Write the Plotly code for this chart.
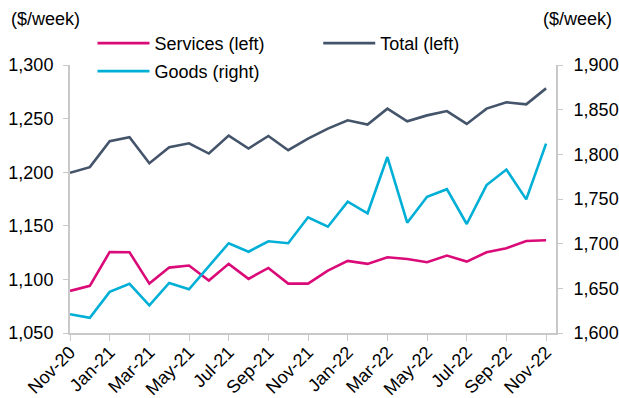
import plotly.graph_objects as go

months = ["Nov-20", "Dec-20", "Jan-21", "Feb-21", "Mar-21", "Apr-21", "May-21", "Jun-21",
          "Jul-21", "Aug-21", "Sep-21", "Oct-21", "Nov-21", "Dec-21", "Jan-22", "Feb-22",
          "Mar-22", "Apr-22", "May-22", "Jun-22", "Jul-22", "Aug-22", "Sep-22", "Oct-22", "Nov-22"]

services = [1089.3, 1094.0, 1125.6, 1125.3, 1096.1, 1111.0, 1112.9, 1098.9, 1114.5, 1100.5,
            1110.7, 1096.1, 1096.1, 1108.2, 1117.3, 1114.5, 1120.7, 1119.1, 1116.0, 1122.2,
            1116.6, 1125.3, 1129.0, 1135.9, 1136.5]

total = [1199.4, 1204.7, 1229.0, 1232.6, 1208.4, 1223.3, 1227.0, 1217.4, 1234.2, 1222.1,
         1233.8, 1220.5, 1231.3, 1240.7, 1248.4, 1244.4, 1259.3, 1247.5, 1253.0, 1257.0,
         1245.0, 1259.3, 1265.2, 1263.3, 1278.2]

goods = [1621, 1617, 1646, 1655, 1631, 1656, 1649, 1674.6, 1700.5, 1691, 1702.7, 1700.5,
         1729.5, 1719, 1747, 1734, 1797, 1723.5, 1752.5, 1761, 1722, 1765.6, 1783, 1749.6, 1812]

left_ticks = [1050, 1100, 1150, 1200, 1250, 1300]
right_ticks = [1600, 1650, 1700, 1750, 1800, 1850, 1900]

x = list(range(len(months)))
xtick_vals = x[::2]
xtick_text = months[::2]

FONT = "Liberation Sans, Arial, sans-serif"
W, H = 619, 398
ML, MR, MT, MB = 69.5, 63, 64.6, 64.7
PW, PH = W - ML - MR, H - MT - MB
C_SERV = "#DA0B78"
C_TOT = "#44546A"
C_GOODS = "#00AFD6"
GRID = "#C9C9C9"


def px_to_paper(px, py):
    return (px - ML) / PW, (H - MB - py) / PH


fig = go.Figure()
fig.add_trace(go.Scatter(x=x, y=services, mode="lines", name="Services (left)",
                         line=dict(color=C_SERV, width=2.6), legend="legend", showlegend=True))
fig.add_trace(go.Scatter(x=x, y=total, mode="lines", name="Total (left)",
                         line=dict(color=C_TOT, width=2.6), legend="legend2", showlegend=True))
fig.add_trace(go.Scatter(x=x, y=goods, mode="lines", name="Goods (right)", yaxis="y2",
                         line=dict(color=C_GOODS, width=2.6), legend="legend3", showlegend=True))


def leg(px, py):
    lx, ly = px_to_paper(px, py)
    return dict(x=lx, y=ly, xref="paper", yref="paper",
                xanchor="left", yanchor="middle", bgcolor="rgba(0,0,0,0)",
                font=dict(family=FONT, size=18, color="#000"), itemwidth=52)


ax1 = px_to_paper(8, 18)
ax2 = px_to_paper(614, 18)

fig.update_layout(
    template="none",
    showlegend=True,
    width=W, height=H,
    margin=dict(l=ML, r=MR, t=MT, b=MB, autoexpand=False),
    paper_bgcolor="white", plot_bgcolor="white",
    font=dict(family=FONT, size=18, color="#000"),
    legend=leg(92, 43),
    legend2=leg(318, 43),
    legend3=leg(92, 71),
    xaxis=dict(range=[0, 24.5], tickvals=xtick_vals, ticktext=xtick_text, tickangle=-45,
               showgrid=False, zeroline=False, showline=True, linecolor=GRID, linewidth=1.5,
               ticks="outside", ticklen=6, tickcolor=GRID, tickwidth=1.2, automargin=False,
               ticklabelstandoff=-6,
               tickfont=dict(family=FONT, size=18, color="#000")),
    yaxis=dict(range=[1050, 1300], tickvals=left_ticks, tickformat=",", showgrid=False,
               zeroline=False, showline=True, linecolor=GRID, linewidth=2,
               ticks="outside", ticklen=5, tickcolor=GRID, tickwidth=1.2,
               ticklabelstandoff=6, automargin=False,
               tickfont=dict(family=FONT, size=18, color="#000")),
    yaxis2=dict(range=[1600, 1900], tickvals=right_ticks, tickformat=",", overlaying="y",
                side="right", showgrid=False, zeroline=False, showline=True, linecolor=GRID,
                linewidth=2, ticks="outside", ticklen=5, tickcolor=GRID, tickwidth=1.2,
                ticklabelstandoff=7, automargin=False,
                tickfont=dict(family=FONT, size=18, color="#000")),
    annotations=[
        dict(text="($/week)", x=ax1[0], y=ax1[1], xref="paper", yref="paper",
             showarrow=False, xanchor="left", yanchor="middle",
             font=dict(family=FONT, size=18, color="#000")),
        dict(text="($/week)", x=ax2[0], y=ax2[1], xref="paper", yref="paper",
             showarrow=False, xanchor="right", yanchor="middle",
             font=dict(family=FONT, size=18, color="#000")),
    ],
)

fig.write_html("out.html")
